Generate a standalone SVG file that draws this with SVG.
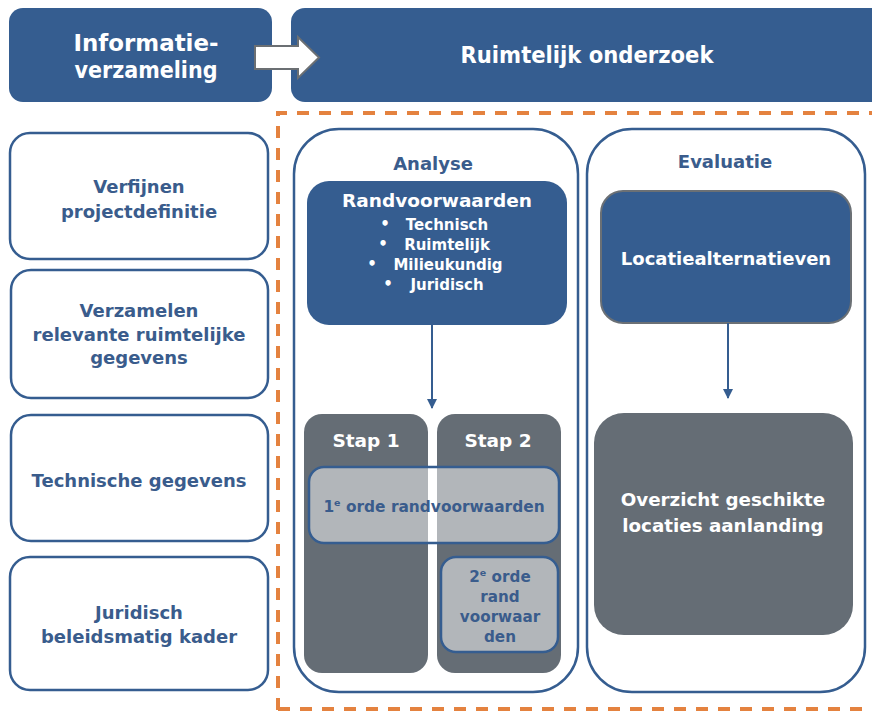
<svg xmlns="http://www.w3.org/2000/svg" width="872" height="711" viewBox="0 0 872 711">
<defs>
<style>
.blue{fill:#355d90}
.gray{fill:#656d75}
.outline{fill:#ffffff;stroke:#355d90;stroke-width:2.5}
.t{font-family:"DejaVu Sans",Verdana,sans-serif;font-weight:bold;text-anchor:middle}
.tw{fill:#ffffff}
.tb{fill:#3a5c8c}
.head{font-family:"DejaVu Sans Condensed","DejaVu Sans",sans-serif;font-weight:bold;text-anchor:middle;fill:#ffffff;font-size:23.5px}
.conn{stroke:#355d90;stroke-width:2;fill:none}
.light{fill:#ffffff;fill-opacity:0.5;stroke:#355d90;stroke-width:2.5}
</style>
<marker id="ah" viewBox="0 0 10 10" refX="9" refY="5" markerWidth="5" markerHeight="5" orient="auto"><path d="M0,0 L10,5 L0,10 z" fill="#355d90"/></marker>
</defs>
<rect width="872" height="711" fill="#ffffff"/>

<g id="informatieverzameling">
<rect class="blue" x="9" y="8" width="263" height="94" rx="14"/>
<text class="head" x="146" y="51" textLength="145" lengthAdjust="spacingAndGlyphs">Informatie-</text>
<text class="head" x="146" y="78" textLength="143" lengthAdjust="spacingAndGlyphs">verzameling</text>
</g>
<g id="ruimtelijk-onderzoek">
<rect class="blue" x="291" y="8" width="600" height="94" rx="14"/>
<text class="head" x="587" y="63">Ruimtelijk onderzoek</text>
</g>
<g id="top-arrow">
<path d="M255,46 L298,46 L298,37 L319,57.5 L298,78 L298,69 L255,69 z" fill="#ffffff" stroke="#6b6f73" stroke-width="2"/>
</g>

<g id="scope">
<path d="M278,710 L278,113 L872,113 M278,709 L872,709" fill="none" stroke="#e4823f" stroke-width="4" stroke-dasharray="12,10"/>
</g>

<g id="verfijnen">
<rect class="outline" x="10" y="133" width="258" height="126" rx="20"/>
<text class="t tb" font-size="18" x="139" y="193">Verfijnen</text>
<text class="t tb" font-size="18" x="139" y="218">projectdefinitie</text>
</g>
<g id="verzamelen">
<rect class="outline" x="11" y="270" width="257" height="128" rx="20"/>
<text class="t tb" font-size="18" x="139" y="317">Verzamelen</text>
<text class="t tb" font-size="18" x="139" y="341">relevante ruimtelijke</text>
<text class="t tb" font-size="18" x="139" y="364">gegevens</text>
</g>
<g id="technische">
<rect class="outline" x="11" y="415" width="257" height="126" rx="20"/>
<text class="t tb" font-size="18" x="139" y="487">Technische gegevens</text>
</g>
<g id="juridisch">
<rect class="outline" x="10" y="557" width="258" height="133" rx="20"/>
<text class="t tb" font-size="18" x="139" y="619">Juridisch</text>
<text class="t tb" font-size="18" x="139" y="643">beleidsmatig kader</text>
</g>

<g id="analyse">
<rect class="outline" x="294" y="129" width="284" height="563" rx="45"/>
<text class="t tb" font-size="18" x="433" y="170">Analyse</text>
</g>
<g id="randvoorwaarden">
<rect class="blue" x="307" y="181" width="260" height="144" rx="22"/>
<text class="t tw" font-size="18.5" x="437" y="207">Randvoorwaarden</text>
<text class="t tw" font-size="15" x="385" y="229">•</text>
<text class="t tw" font-size="15" x="447" y="230">Technisch</text>
<text class="t tw" font-size="15" x="383" y="249">•</text>
<text class="t tw" font-size="15" x="447" y="250">Ruimtelijk</text>
<text class="t tw" font-size="15" x="372" y="269">•</text>
<text class="t tw" font-size="15" x="448" y="270">Milieukundig</text>
<text class="t tw" font-size="15" x="388" y="289">•</text>
<text class="t tw" font-size="15" x="447" y="290">Juridisch</text>
</g>
<g id="stap1">
<rect class="gray" x="304" y="414" width="124" height="259" rx="18"/>
<text class="t tw" font-size="18.5" x="366" y="447">Stap 1</text>
</g>
<g id="stap2">
<rect class="gray" x="437" y="414" width="124" height="259" rx="18"/>
<text class="t tw" font-size="18.5" x="498" y="447">Stap 2</text>
</g>
<g id="orde1">
<rect class="light" x="309" y="467" width="250" height="76" rx="15"/>
<text class="t tb" font-size="15.4" x="434" y="512">1<tspan font-size="9.5" dy="-6">e</tspan><tspan dy="6"> orde randvoorwaarden</tspan></text>
</g>
<g id="orde2">
<rect class="light" x="441" y="557" width="117" height="95" rx="15"/>
<text class="t tb" font-size="15.2" x="500" y="582">2<tspan font-size="9.5" dy="-6">e</tspan><tspan dy="6"> orde</tspan></text>
<text class="t tb" font-size="15.2" x="500" y="602">rand</text>
<text class="t tb" font-size="15.2" x="500" y="622">voorwaar</text>
<text class="t tb" font-size="15.2" x="500" y="642">den</text>
</g>

<g id="evaluatie">
<rect class="outline" x="587" y="129" width="278" height="563" rx="45"/>
<text class="t tb" font-size="18" x="725" y="168">Evaluatie</text>
</g>
<g id="locatiealternatieven">
<rect class="blue" x="601" y="191" width="250" height="132" rx="22" stroke="#6b7075" stroke-width="2"/>
<text class="t tw" font-size="18" x="726" y="265">Locatiealternatieven</text>
</g>
<g id="overzicht">
<rect class="gray" x="594" y="413" width="259" height="222" rx="30"/>
<text class="t tw" font-size="18.3" x="723" y="506">Overzicht geschikte</text>
<text class="t tw" font-size="18.3" x="723" y="532">locaties aanlanding</text>
</g>

<g id="connectors">
<line class="conn" x1="432" y1="325" x2="432" y2="408" marker-end="url(#ah)"/>
<line class="conn" x1="728" y1="323" x2="728" y2="398" marker-end="url(#ah)"/>
</g>
</svg>
